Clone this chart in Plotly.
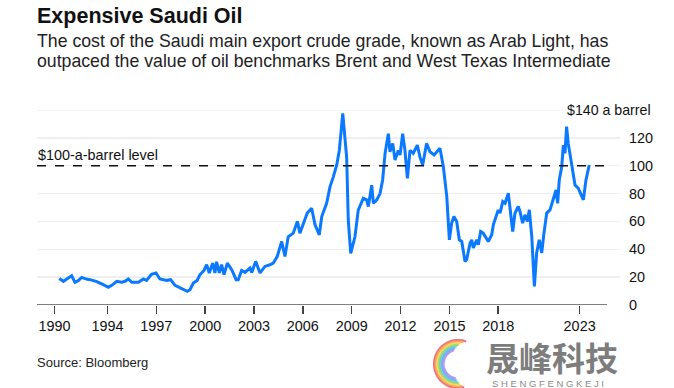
import math
import plotly.graph_objects as go

# ---- data (decimal years, Arab Light price $/bbl) ----
years = [1991.04, 1991.29, 1991.5, 1991.8, 1992.0, 1992.2, 1992.42, 1992.7, 1992.93, 1993.34,
         1993.74, 1994.05, 1994.26, 1994.57, 1994.87, 1995.1, 1995.28, 1995.49, 1995.9, 1996.2,
         1996.4, 1996.7, 1996.98, 1997.22, 1997.64, 1997.88, 1998.15, 1998.45, 1998.66, 1998.9,
         1999.07, 1999.27, 1999.5, 1999.68, 1999.93, 2000.09, 2000.25, 2000.46, 2000.6, 2000.7,
         2000.87, 2001.01, 2001.16, 2001.36, 2001.63, 2001.9, 2002.03, 2002.24, 2002.45, 2002.75,
         2002.86, 2003.1, 2003.37, 2003.67, 2003.98, 2004.18, 2004.43, 2004.7, 2004.9, 2005.1,
         2005.41, 2005.66, 2005.82, 2006.03, 2006.27, 2006.54, 2006.75, 2007.01, 2007.16, 2007.46,
         2007.67, 2007.87, 2008.08, 2008.24, 2008.45, 2008.69, 2008.79, 2008.94, 2009.2, 2009.4,
         2009.61, 2009.71, 2009.92, 2010.02, 2010.23, 2010.33, 2010.54, 2010.74, 2010.9, 2011.05,
         2011.25, 2011.35, 2011.52, 2011.66, 2011.86, 2011.97, 2012.13, 2012.27, 2012.42, 2012.58,
         2012.78, 2013.03, 2013.2, 2013.36, 2013.6, 2013.81, 2014.06, 2014.26, 2014.42, 2014.63,
         2014.84, 2015.0, 2015.14, 2015.28, 2015.45, 2015.61, 2015.76, 2015.96, 2016.06, 2016.27,
         2016.37, 2016.47, 2016.68, 2016.78, 2016.92, 2017.08, 2017.39, 2017.6, 2017.7, 2018.0,
         2018.11, 2018.28, 2018.42, 2018.62, 2018.77, 2018.89, 2019.03, 2019.23, 2019.34, 2019.5,
         2019.64, 2019.79, 2019.91, 2020.06, 2020.22, 2020.36, 2020.52, 2020.67, 2020.81, 2020.98,
         2021.18, 2021.38, 2021.55, 2021.65, 2021.75, 2021.9, 2022.0, 2022.1, 2022.2, 2022.3,
         2022.45, 2022.57, 2022.72, 2022.92, 2023.13, 2023.23, 2023.39, 2023.59]
prices = [19.0, 17.0, 18.7, 21.0, 16.3, 17.5, 19.8, 18.6, 18.2, 16.8,
          14.6, 12.7, 14.1, 17.0, 16.3, 17.2, 18.7, 16.3, 16.3, 18.7,
          17.7, 22.0, 23.0, 18.7, 17.7, 18.2, 14.1, 12.2, 11.0, 9.8,
          11.0, 15.8, 17.5, 21.8, 24.8, 29.0, 23.0, 30.0, 23.0, 31.0,
          23.0, 29.0, 21.8, 30.0, 25.3, 18.2, 18.2, 24.8, 23.4, 26.5,
          23.4, 31.3, 23.0, 27.7, 28.9, 30.0, 34.9, 45.6, 34.9, 49.0,
          51.6, 60.0, 51.6, 58.8, 66.0, 69.5, 57.5, 50.4, 63.5, 73.0,
          85.0, 92.0, 100.5, 111.0, 137.5, 106.0, 61.0, 37.0, 49.0, 68.0,
          73.0, 76.6, 75.5, 70.7, 86.0, 73.0, 75.5, 80.0, 89.8, 108.9,
          123.0, 110.0, 116.0, 104.0, 111.0, 107.7, 123.0, 111.0, 91.0, 111.0,
          108.9, 114.8, 106.0, 100.5, 116.0, 110.0, 107.7, 110.0, 112.5, 99.3,
          77.8, 46.8, 58.8, 63.5, 60.0, 46.8, 45.6, 31.3, 32.5, 44.4,
          46.8, 40.9, 46.8, 43.2, 52.8, 51.6, 45.6, 50.4, 57.5, 68.3,
          66.0, 74.2, 73.0, 80.2, 62.3, 52.8, 66.0, 70.7, 67.0, 58.8,
          64.7, 60.0, 68.3, 49.2, 13.4, 37.3, 46.8, 37.3, 51.6, 66.0,
          68.3, 75.5, 82.6, 73.0, 89.8, 99.3, 114.8, 108.9, 128.0, 116.0,
          104.0, 95.7, 86.0, 83.8, 77.8, 75.5, 89.8, 100.5]

tick_positions = [1990.75, 1994, 1997, 2000, 2003, 2006, 2009, 2012, 2015, 2018, 2023]
tick_labels = ["1990", "1994", "1997", "2000", "2003", "2006", "2009", "2012", "2015", "2018", "2023"]
y_ticks = [0, 20, 40, 60, 80, 100, 120]
level = 100
top_level = 140

title = "<b>Expensive Saudi Oil</b>"
subtitle_1 = "The cost of the Saudi main export crude grade, known as Arab Light, has"
subtitle_2 = "outpaced the value of oil benchmarks Brent and West Texas Intermediate"
source = "Source: Bloomberg"
wm_cn = "<b>晟峰科技</b>"
wm_en = "S H E N G F E N G K E J I"

# ---- layout geometry (pixels) ----
W, H = 674, 388
L, R, T, B = 37, 54, 110, 83
PW, PH = W - L - R, H - T - B
X0, X1 = 1989.67, 2025.48


def px(xp):
    return (xp - L) / PW


def py(yp):
    return (H - B - yp) / PH


FONT = "Liberation Sans, Arial, sans-serif"
BLUE = "#0a78ff"

fig = go.Figure()
fig.add_trace(go.Scatter(x=years, y=prices, mode="lines",
                         line=dict(color=BLUE, width=3), hoverinfo="skip",
                         showlegend=False))

shapes = [
    dict(type="line", xref="paper", yref="y", x0=0, x1=px(563), y0=top_level, y1=top_level,
         line=dict(color="#efefef", width=1.5), layer="below"),
    dict(type="line", xref="paper", yref="y", x0=0, x1=px(608), y0=level, y1=level,
         line=dict(color="#111111", width=1.5, dash="dash")),
    dict(type="line", xref="paper", yref="y", x0=0, x1=px(607), y0=0, y1=0,
         line=dict(color="#555555", width=1.6)),
]

# decorative watermark logo swirl (rainbow arcs)
logo_colors = ["#f25a6e", "#f7a04b", "#f5d84a", "#9bd65a", "#5cc9d8", "#6aa8f0", "#a98cf0"]
cx, cy = 458, 364
for i, col in enumerate(logo_colors):
    r = 24 - i * 1.6
    a_start, a_end = 70 + i * 6, 285 - i * 4
    pts = []
    n = 24
    for k in range(n + 1):
        a = math.radians(a_start + (a_end - a_start) * k / n)
        pts.append((px(cx + r * math.cos(a)), py(cy - r * math.sin(a))))
    path = "M " + " L ".join(f"{x:.5f},{y:.5f}" for x, y in pts)
    shapes.append(dict(type="path", xref="paper", yref="paper", path=path,
                       line=dict(color=col, width=2.2), opacity=0.85))

annotations = [
    dict(text=title, x=px(35), y=py(16), xref="paper", yref="paper", xanchor="left",
         yanchor="middle", showarrow=False, font=dict(family=FONT, size=21.5, color="#111111")),
    dict(text=subtitle_1, x=px(35), y=py(41), xref="paper", yref="paper", xanchor="left",
         yanchor="middle", showarrow=False, font=dict(family=FONT, size=17.7, color="#222222")),
    dict(text=subtitle_2, x=px(35), y=py(61), xref="paper", yref="paper", xanchor="left",
         yanchor="middle", showarrow=False, font=dict(family=FONT, size=17.7, color="#222222")),
    dict(text="$100-a-barrel level", x=px(36), y=level, xref="paper", yref="y",
         xanchor="left", yanchor="bottom", yshift=1, showarrow=False,
         font=dict(family=FONT, size=14.4, color="#111111")),
    dict(text="$140 a barrel", x=px(653), y=top_level, xref="paper", yref="y",
         xanchor="right", yanchor="middle", showarrow=False,
         font=dict(family=FONT, size=14.2, color="#111111")),
    dict(text=source, x=px(35), y=py(362), xref="paper", yref="paper", xanchor="left",
         yanchor="middle", showarrow=False, font=dict(family=FONT, size=13, color="#222222")),
    dict(text=wm_cn, x=px(552), y=py(356.5), xref="paper", yref="paper",
         xanchor="center", yanchor="middle", showarrow=False,
         font=dict(family="Noto Sans CJK SC", size=33, color="#7d7d7d")),
    dict(text=wm_en, x=px(548), y=py(383), xref="paper", yref="paper",
         xanchor="center", yanchor="middle", showarrow=False,
         font=dict(family=FONT, size=9.5, color="#8a8a8a")),
]

fig.update_layout(
    width=W, height=H,
    margin=dict(l=L, r=R, t=T, b=B, pad=0),
    paper_bgcolor="white", plot_bgcolor="white",
    shapes=shapes, annotations=annotations,
    font=dict(family=FONT, size=14.4, color="#111111"),
    xaxis=dict(range=[X0, X1], tickmode="array", tickvals=tick_positions, ticktext=tick_labels,
               showgrid=False, zeroline=False, showline=False,
               ticks="outside", ticklen=8, tickwidth=1.5, tickcolor="#444444",
               tickfont=dict(family=FONT, size=14.4, color="#111111"), fixedrange=True),
    yaxis=dict(range=[0, 140], side="right", tickmode="array", tickvals=y_ticks,
               showgrid=True, gridcolor="#efefef", gridwidth=1.5, zeroline=False,
               showline=False, ticks="", ticklabelstandoff=8,
               tickfont=dict(family=FONT, size=14.4, color="#111111"), fixedrange=True),
)

fig.write_html("out.html", config={"displayModeBar": False, "staticPlot": True},
               post_script="document.body.style.margin='0';document.body.style.overflow='hidden';")
